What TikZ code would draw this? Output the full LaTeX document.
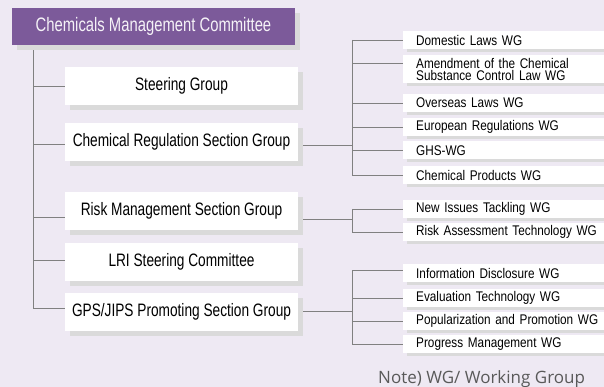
\documentclass[tikz,border=0pt]{standalone}
\usepackage{fontspec}
\setmainfont{Liberation Sans}
\newfontfamily\groupfont[FakeStretch=0.76]{Liberation Sans}
\newfontfamily\wgfont[FakeStretch=0.84]{Liberation Sans}
\newfontfamily\notefont{Open Sans}
\usepackage{tikz}
\usetikzlibrary{shadows}
\definecolor{bglilac}{RGB}{238,233,243}
\definecolor{cmcpurple}{RGB}{124,90,154}
\definecolor{shadowgray}{RGB}{218,218,218}
\definecolor{linegray}{RGB}{128,128,128}

\begin{document}
\begin{tikzpicture}[x=1pt,y=-1pt,
  groupbox/.style={fill=white, minimum width=233pt, minimum height=38pt, inner sep=0pt,
    font={\groupfont\fontsize{18}{20}\selectfont},
    drop shadow={shadow xshift=5pt, shadow yshift=-5pt, fill=shadowgray, opacity=1}},
  wgbox/.style={fill=white, anchor=west, text width=190pt, inner xsep=13pt, inner ysep=0pt,
    minimum height=18pt, align=left, font={\wgfont\fontsize{14}{12}\selectfont},
    drop shadow={shadow xshift=4pt, shadow yshift=-3pt, fill=shadowgray, opacity=1}},
  conn/.style={draw=linegray, line width=0.8pt}]

% Fond
\fill[bglilac] (0,0) rectangle (604,387);
\useasboundingbox (0,0) rectangle (604,387);

% Comite
\node[fill=cmcpurple, text=white!92!cmcpurple, minimum width=283pt, minimum height=37pt, inner sep=0pt,
  font={\groupfont\fontsize{19.5}{21}\selectfont},
  drop shadow={shadow xshift=5pt, shadow yshift=-5pt, fill=shadowgray, opacity=1}]
  (cmc) at (153.5,26.5) {Chemicals Management Committee};

% Groupes
\node[groupbox] (sg) at (181.5,86) {Steering Group};
\node[groupbox] (crsg) at (181.5,142) {Chemical Regulation Section Group};
\node[groupbox] (rmsg) at (181.5,211) {Risk Management Section Group};
\node[groupbox] (lri) at (181.5,262) {LRI Steering Committee};
\node[groupbox] (gps) at (181.5,312) {GPS/JIPS Promoting Section Group};

% Working groups
\node[wgbox] (dom) at (403,40) {Domestic Laws WG};
\node[wgbox, inner ysep=2.5pt] (amend) at (403,69) {Amendment of the Chemical\\Substance Control Law WG};
\node[wgbox] (osl) at (403,103) {Overseas Laws WG};
\node[wgbox] (eur) at (403,127) {European Regulations WG};
\node[wgbox] (ghs) at (403,150.5) {GHS-WG};
\node[wgbox] (chp) at (403,175.5) {Chemical Products WG};
\node[wgbox] (nit) at (403,209) {New Issues Tackling WG};
\node[wgbox] (rat) at (403,232) {Risk Assessment Technology WG};
\node[wgbox] (idc) at (403,273) {Information Disclosure WG};
\node[wgbox] (evt) at (403,298) {Evaluation Technology WG};
\node[wgbox] (ppr) at (403,321) {Popularization and Promotion WG};
\node[wgbox] (prm) at (403,344) {Progress Management WG};

% Points d'attache
\coordinate (trunk) at ([xshift=22pt,yshift=-5pt]cmc.south west);
\coordinate (crin) at ([yshift=-2pt]crsg.west);
\coordinate (rmin) at ([yshift=-6pt]rmsg.west);
\coordinate (lriin) at ([yshift=2pt]lri.west);
\coordinate (gpsin) at ([yshift=4pt]gps.west);
\coordinate (crout) at ([xshift=5pt,yshift=-3pt]crsg.east);
\coordinate (rmout) at ([xshift=5pt,yshift=-8pt]rmsg.east);
\coordinate (gpsout) at ([xshift=5pt,yshift=1pt]gps.east);
\coordinate (amendin) at ([yshift=6pt]amend.west);
\coordinate (idcin) at ([yshift=3pt]idc.west);
\coordinate (bus) at (352,0);

% Tronc
\draw[conn] (trunk) |- (gpsin);
\foreach \grp in {sg.west,crin,rmin,lriin}
  \draw[conn] (trunk |- \grp) -- (\grp);

% Bus
\draw[conn] (crout) -- (crout -| bus);
\draw[conn] (rmout) -- (rmout -| bus);
\draw[conn] (gpsout) -- (gpsout -| bus);

\draw[conn] (bus |- dom.west) |- (chp.west);
\foreach \wg in {dom.west,amendin,osl.west,eur.west,ghs.west}
  \draw[conn] (bus |- \wg) -- (\wg);

\draw[conn] (bus |- nit.west) |- (rat.west);
\draw[conn] (bus |- nit.west) -- (nit.west);

\draw[conn] (bus |- idcin) |- (prm.west);
\foreach \wg in {idcin,evt.west,ppr.west}
  \draw[conn] (bus |- \wg) -- (\wg);

% Note
\node[font={\notefont\fontsize{17}{19}\selectfont}, text=black!65, anchor=base west, inner sep=0pt]
  (note) at (378,383) {Note) WG/ Working Group};

\end{tikzpicture}
\end{document}
